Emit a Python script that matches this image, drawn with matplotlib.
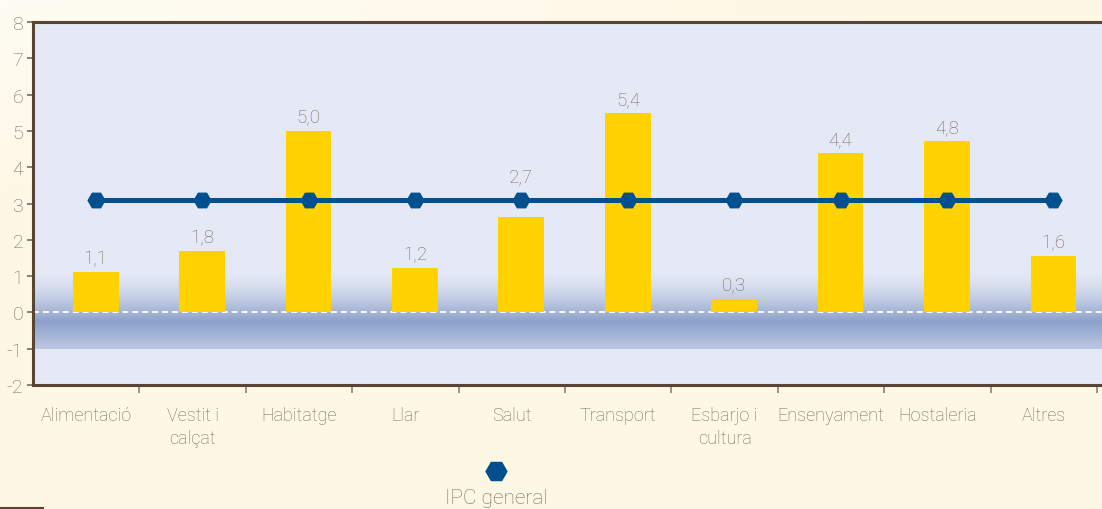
import numpy as np
import matplotlib
matplotlib.use("Agg")
import matplotlib.pyplot as plt
from matplotlib.lines import Line2D

# ---- data ----
categories = ["Alimentació", "Vestit i\ncalçat", "Habitatge", "Llar", "Salut",
              "Transport", "Esbarjo i\ncultura", "Ensenyament", "Hostaleria", "Altres"]
bar_values = [1.1, 1.68, 5.0, 1.21, 2.63, 5.48, 0.38, 4.38, 4.71, 1.54]
bar_labels = ["1,1", "1,8", "5,0", "1,2", "2,7", "5,4", "0,3", "4,4", "4,8", "1,6"]
ipc_general = [3.1] * 10
y_ticks = [-2, -1, 0, 1, 2, 3, 4, 5, 6, 7, 8]
legend_label = "IPC general"

# ---- style ----
FONT = ["Roboto", "DejaVu Sans"]
plt.rcParams["font.family"] = FONT
plt.rcParams["font.weight"] = "light"
TXT = "#766A62"
SPINE = "#5A4535"
BAR = "#FFD200"
LINE = "#00508F"
BASE = np.array([229, 233, 245]) / 255
DARK = np.array([140, 160, 202]) / 255

W, H = 1102, 510
fig = plt.figure(figsize=(W / 100, H / 100), dpi=100)

# figure background gradient (cream, lighter at top-left)
bg = fig.add_axes([0, 0, 1, 1], zorder=-10)
gx, gy = np.meshgrid(np.linspace(0, 1, 200), np.linspace(0, 1, 100))
d = np.clip(np.sqrt((gx * 1.2) ** 2 + (gy * 2.2) ** 2), 0, 1)
c_light = np.array([255, 252, 243]) / 255
c_cream = np.array([254, 247, 228]) / 255
img = c_light[None, None, :] + (c_cream - c_light)[None, None, :] * d[..., None]
bg.imshow(img, extent=[0, 1, 0, 1], origin="upper", aspect="auto")
bg.set_xlim(0, 1); bg.set_ylim(0, 1)
bg.axis("off")

left = 33 / W
bottom = (H - 386) / H
ax = fig.add_axes([left, bottom, 1 - left, (386 - 23) / H])
ax.set_facecolor(BASE)

x = np.arange(len(categories))
off = 0.09
XLIM = (-0.5, -0.5 + (W - 33) / 106.4)

# blue gradient band around zero
ys = np.linspace(-1, 1.25, 300)
t = np.where(ys > -0.25,
             np.clip((1.2 - ys) / 1.45, 0, 1) ** 1.6,
             1 - 0.55 * (-0.25 - ys) / 0.75)
band = BASE[None, :] + (DARK - BASE)[None, :] * t[:, None]
band = band[:, None, :]
ax.imshow(band, extent=[-0.5, 10, -1, 1.25], origin="lower", aspect="auto",
          zorder=0.5, interpolation="bilinear")
ax.set_xlim(*XLIM)
ax.set_ylim(-2, 8)

# zero dashed line
ax.axhline(0, color="white", lw=1.3, ls=(0, (3.3, 2.2)), zorder=1)

# bars
ax.bar(x + off, bar_values, width=0.43, color=BAR, zorder=2)
for xi, v, lab, ipc in zip(x, bar_values, bar_labels, ipc_general):
    base_y = v
    if v < ipc and v + 0.75 > ipc - 0.25:   # label would collide with the IPC line
        base_y = ipc + 0.25
    ax.annotate(lab, (xi + off, base_y), xytext=(0, 4), textcoords="offset points",
                ha="center", va="bottom", fontsize=13.5, color=TXT)

# IPC line
ax.plot(x + off, ipc_general, color=LINE, lw=3.6, marker="H", markersize=12,
        zorder=3, solid_capstyle="butt")

# spines
for s in ["left", "bottom", "top"]:
    ax.spines[s].set_color(SPINE)
    ax.spines[s].set_linewidth(2.2)
ax.spines["right"].set_visible(False)

# ticks
ax.set_yticks(y_ticks)
ax.set_yticklabels([str(v) for v in y_ticks])
ax.tick_params(axis="y", direction="out", length=4, width=1.2, color=TXT,
               labelcolor=TXT, labelsize=14, pad=3)
ax.set_xticks(x)
ax.set_xticklabels(categories, linespacing=1.35)
ax.tick_params(axis="x", which="major", length=0, labelcolor=TXT,
               labelsize=13, pad=15)
ax.set_xticks(np.arange(0.5, 9.6, 1.0), minor=True)
ax.tick_params(axis="x", which="minor", direction="out", length=6, width=1.2,
               color="#8A7F78")

# legend (manual, below chart)
fig.add_artist(Line2D([496 / W], [1 - 472 / H], marker="H", markersize=15,
                      color=LINE, linestyle="none", transform=fig.transFigure))
fig.text(496 / W, 1 - 489 / H, legend_label, ha="center", va="top",
         fontsize=15, color=TXT)

# small dark line at bottom-left
fig.add_artist(Line2D([0, 43 / W], [1 - 509 / H, 1 - 509 / H], color=SPINE,
                      lw=1.5, transform=fig.transFigure))

fig.savefig("out.png", dpi=100)
